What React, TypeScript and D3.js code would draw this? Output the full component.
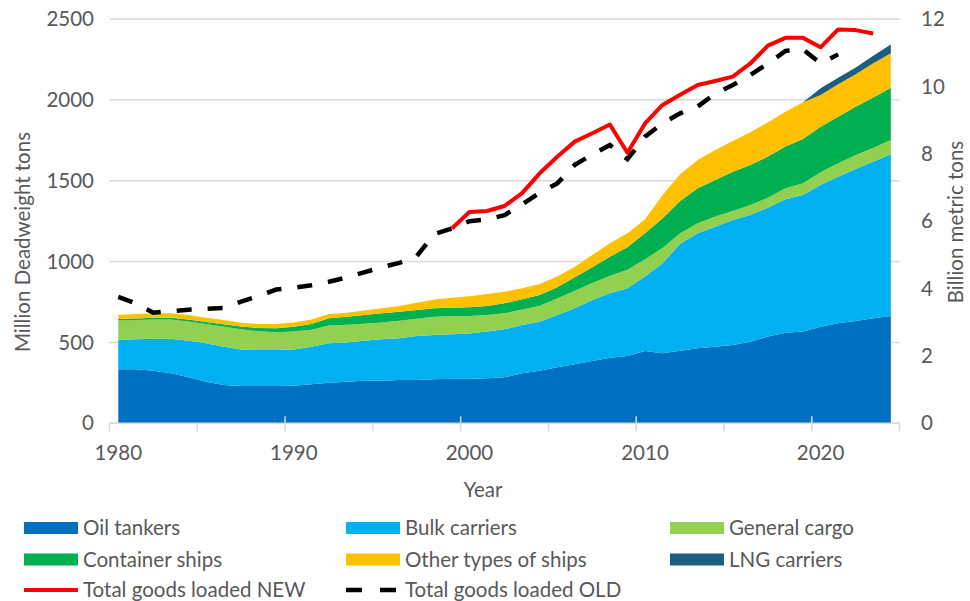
import React, { useRef, useEffect } from 'react';
import * as d3 from 'd3';

// years on the category axis
const years = d3.range(1980, 2025);

// Million deadweight tons by ship type
const oilTankers = [334, 334, 325, 309, 284, 257, 237, 231, 231, 231, 232, 241, 251, 257, 263, 263, 268, 268, 272, 276,
    276, 278, 284, 309, 325, 346, 365, 385, 406, 416, 447, 433, 448, 464, 474, 484, 505, 536, 560, 567,
    597, 618, 633, 649, 664];
const bulkCarriers = [181, 185, 198, 214, 227, 238, 237, 226, 222, 222, 225, 233, 244, 242, 248, 256, 258, 272, 274, 274,
    280, 289, 297, 299, 303, 324, 346, 378, 398, 419, 460, 556, 662, 711, 742, 773, 783, 797, 825, 845,
    877, 907, 940, 969, 999];
const generalCargo = [120, 119, 119, 119, 119, 119, 123, 124, 116, 110, 111, 105, 110, 110, 105, 105, 108, 107, 113, 113,
    108, 102, 99, 96, 99, 101, 108, 105, 108, 115, 108, 95, 65, 62, 62, 56, 62, 62, 68, 72,
    78, 83, 86, 86, 89];
const containerShips = [10, 10, 10, 11, 12, 13, 15, 17, 21, 25, 29, 35, 44, 50, 54, 56, 56, 53, 52, 52,
    53, 56, 62, 63, 66, 70, 84, 97, 118, 138, 160, 184, 200, 216, 227, 243, 247, 254, 258, 274,
    282, 288, 299, 310, 323];
const otherShips = [25, 28, 28, 27, 28, 26, 27, 24, 24, 26, 27, 28, 27, 25, 27, 31, 36, 45, 55, 62,
    68, 75, 72, 68, 68, 66, 65, 76, 83, 87, 87, 144, 165, 175, 185, 190, 203, 212, 216, 227,
    196, 200, 200, 212, 213];
const lngCarriers = [0, 0, 0, 0, 0, 0, 0, 0, 0, 0, 0, 0, 0, 0, 0, 0, 0, 0, 0, 0,
    0, 0, 0, 0, 0, 0, 0, 0, 0, 0, 0, 0, 0, 0, 0, 0, 0, 0, 0, 0,
    42, 40, 42, 46, 55];

// Billion metric tons of goods loaded
const goodsNew = [null, null, null, null, null, null, null, null, null, null, null, null, null, null, null, null, null, null, null, 5.78,
    6.27, 6.3, 6.45, 6.83, 7.42, 7.91, 8.36, 8.61, 8.87, 8.03, 8.9, 9.45, 9.75, 10.04, 10.16, 10.29, 10.68, 11.21, 11.44, 11.44,
    11.16, 11.69, 11.67, 11.57, null];
const goodsOld = [3.75, 3.56, 3.28, 3.33, 3.37, 3.4, 3.42, 3.61, 3.78, 3.97, 4.02, 4.1, 4.2, 4.33, 4.48, 4.63, 4.76, 4.96, 5.62, 5.78,
    6.0, 6.05, 6.18, 6.5, 6.84, 7.12, 7.67, 7.98, 8.26, 7.84, 8.51, 8.9, 9.2, 9.4, 9.79, 10.04, 10.34, 10.68, 11.05, 11.1,
    10.68, 10.95, null, null, null];

const leftTicks = [0, 500, 1000, 1500, 2000, 2500];
const rightTicks = [0, 2, 4, 6, 8, 10, 12];
const yearLabels = [1980, 1990, 2000, 2010, 2020];

const series = [
    { key: 'oil', name: 'Oil tankers', values: oilTankers, color: '#0070C0' },
    { key: 'bulk', name: 'Bulk carriers', values: bulkCarriers, color: '#00B0F0' },
    { key: 'gc', name: 'General cargo', values: generalCargo, color: '#92D050' },
    { key: 'cont', name: 'Container ships', values: containerShips, color: '#00B050' },
    { key: 'other', name: 'Other types of ships', values: otherShips, color: '#FFC000' },
    { key: 'lng', name: 'LNG carriers', values: lngCarriers, color: '#1B5E82' },
];

const FONT = 'Lato, "Open Sans", sans-serif';
const FS = '20.5px';
const TXT = '#595959';

const Chart = () => {
    const svgRef = useRef(null);

    useEffect(() => {
        const svg = d3.select(svgRef.current);
        svg.selectAll('*').remove();

        const left = 109.5, right = 899.6, top = 19, bottom = 423.3;

        const x = d3.scalePoint().domain(years).range([left, right]).padding(0.5);
        const step = (right - left) / years.length;
        const y = d3.scaleLinear().domain([0, 2500]).range([bottom, top]);
        const y2 = d3.scaleLinear().domain([0, 12]).range([bottom, top]);

        const label = (sel) => sel
            .style('font-family', FONT)
            .style('font-size', FS)
            .attr('fill', TXT);

        // gridlines
        svg.append('g')
            .selectAll('line')
            .data(leftTicks)
            .enter()
            .append('line')
            .attr('x1', left)
            .attr('x2', right)
            .attr('y1', d => y(d))
            .attr('y2', d => y(d))
            .attr('stroke', '#d9d9d9')
            .attr('stroke-width', 1.5);

        // stacked areas
        const table = years.map((yr, i) => {
            const row = { year: yr };
            series.forEach(s => { row[s.key] = s.values[i]; });
            return row;
        });
        const stacked = d3.stack().keys(series.map(s => s.key))(table);
        const area = d3.area()
            .x(d => x(d.data.year))
            .y0(d => y(d[0]))
            .y1(d => y(d[1]));

        svg.append('g')
            .selectAll('path')
            .data(stacked)
            .enter()
            .append('path')
            .attr('d', area)
            .attr('fill', (d, i) => series[i].color);

        // bottom axis line and ticks
        svg.append('line')
            .attr('x1', left).attr('x2', right)
            .attr('y1', bottom).attr('y2', bottom)
            .attr('stroke', '#d9d9d9').attr('stroke-width', 1.5);

        const tickIdx = d3.range(0, years.length + 1, 5);
        svg.append('g')
            .selectAll('line')
            .data(tickIdx)
            .enter()
            .append('line')
            .attr('x1', i => left + i * step)
            .attr('x2', i => left + i * step)
            .attr('y1', i => (i % 10 === 0 && i > 0 && i < years.length) ? bottom - 7 : bottom)
            .attr('y2', bottom + 8)
            .attr('stroke', '#d9d9d9')
            .attr('stroke-width', 1.5);

        // lines on right axis
        const line = d3.line()
            .defined(d => d != null)
            .x((d, i) => x(years[i]))
            .y(d => y2(d));

        svg.append('path')
            .attr('d', line(goodsNew))
            .attr('fill', 'none')
            .attr('stroke', '#FF0000')
            .attr('stroke-width', 4)
            .attr('stroke-linejoin', 'round');

        svg.append('path')
            .attr('d', line(goodsOld))
            .attr('fill', 'none')
            .attr('stroke', '#000000')
            .attr('stroke-width', 4.5)
            .attr('stroke-dasharray', '15 16');

        // tick labels
        svg.append('g')
            .selectAll('text')
            .data(leftTicks)
            .enter()
            .append('text')
            .attr('x', 94)
            .attr('y', d => y(d))
            .attr('dy', '0.35em')
            .attr('text-anchor', 'end')
            .call(label)
            .text(d => d);

        svg.append('g')
            .selectAll('text')
            .data(rightTicks)
            .enter()
            .append('text')
            .attr('x', 921)
            .attr('y', d => y2(d))
            .attr('dy', '0.35em')
            .attr('text-anchor', 'start')
            .call(label)
            .text(d => d);

        svg.append('g')
            .selectAll('text')
            .data(yearLabels)
            .enter()
            .append('text')
            .attr('x', d => x(d))
            .attr('y', 460)
            .attr('text-anchor', 'middle')
            .call(label)
            .text(d => d);

        // axis titles
        svg.append('text')
            .attr('transform', 'translate(30,242) rotate(-90)')
            .attr('text-anchor', 'middle')
            .call(label)
            .text('Million Deadweight tons');

        svg.append('text')
            .attr('transform', 'translate(963,222) rotate(-90)')
            .attr('text-anchor', 'middle')
            .call(label)
            .text('Billion metric tons');

        svg.append('text')
            .attr('x', 483)
            .attr('y', 497)
            .attr('text-anchor', 'middle')
            .call(label)
            .text('Year');

        // legend
        const colX = [24, 346, 670];
        const rowY = [528, 559.5, 590];
        const legend = svg.append('g');
        series.forEach((s, i) => {
            const cx = colX[i % 3];
            const cy = rowY[Math.floor(i / 3)];
            legend.append('rect')
                .attr('x', cx).attr('y', cy - 6)
                .attr('width', 54).attr('height', 12)
                .attr('fill', s.color);
            legend.append('text')
                .attr('x', cx + 59).attr('y', cy)
                .attr('dy', '0.35em')
                .call(label)
                .text(s.name);
        });
        legend.append('line')
            .attr('x1', colX[0]).attr('x2', colX[0] + 54)
            .attr('y1', rowY[2]).attr('y2', rowY[2])
            .attr('stroke', '#FF0000').attr('stroke-width', 4);
        legend.append('text')
            .attr('x', colX[0] + 59).attr('y', rowY[2]).attr('dy', '0.35em')
            .call(label)
            .text('Total goods loaded NEW');
        legend.append('line')
            .attr('x1', colX[1]).attr('x2', colX[1] + 50)
            .attr('y1', rowY[2]).attr('y2', rowY[2])
            .attr('stroke', '#000000').attr('stroke-width', 4.5)
            .attr('stroke-dasharray', '16 18');
        legend.append('text')
            .attr('x', colX[1] + 59).attr('y', rowY[2]).attr('dy', '0.35em')
            .call(label)
            .text('Total goods loaded OLD');
    }, []);

    return <svg ref={svgRef} width={970} height={601}
        style={{ position: 'absolute', left: 0, top: 0, background: '#fff' }}></svg>;
};

export default function App() {
    return <Chart />;
}
